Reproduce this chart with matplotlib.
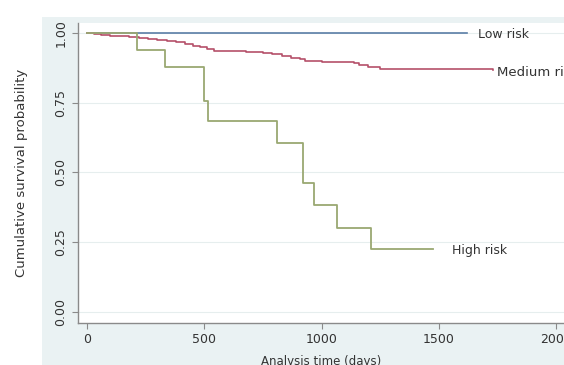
import matplotlib
matplotlib.use("Agg")
import matplotlib.pyplot as plt

# Data
low_t = [0, 1620]
low_s = [1.0, 1.0]

med_t = [0, 30, 60, 100, 140, 180, 220, 260, 300, 340, 380, 420, 450, 480, 510,
         540, 600, 680, 750, 790, 830, 870, 910, 930, 1000, 1140, 1160, 1200, 1250, 1731]
med_s = [1.0, 0.997, 0.994, 0.991, 0.988, 0.985, 0.982, 0.979, 0.975, 0.970, 0.966,
         0.961, 0.955, 0.949, 0.942, 0.936, 0.934, 0.932, 0.930, 0.925, 0.918, 0.912,
         0.905, 0.899, 0.896, 0.893, 0.884, 0.878, 0.870, 0.867]

high_t = [0, 214, 333, 500, 518, 812, 923, 966, 1068, 1209, 1474]
high_s = [1.0, 0.939, 0.878, 0.755, 0.683, 0.606, 0.462, 0.383, 0.301, 0.226, 0.226]

xticks = [0, 500, 1000, 1500, 2000]
yticks = [0.0, 0.25, 0.5, 0.75, 1.0]
ytick_labels = ["0.00", "0.25", "0.50", "0.75", "1.00"]

labels = ["Low risk", "Medium risk", "High risk"]
colors = ["#5a7ea6", "#b5506a", "#9aa872"]

fig = plt.figure(figsize=(5.64, 3.65), dpi=100)
fig.patch.set_facecolor("white")

bg = fig.add_axes([42/564, 0, 1 - 42/564, 1 - 17/365])
bg.set_facecolor("#eaf2f3")
bg.set_xticks([])
bg.set_yticks([])
for s in bg.spines.values():
    s.set_visible(False)
bg.set_zorder(0)

ax = fig.add_axes([78/564, 1 - 323/365, 1 - 78/564, (323 - 23)/365])
ax.set_zorder(1)
ax.set_facecolor("white")
ax.set_xlim(-38.4, 2034)
ax.set_ylim(-0.0394, 1.0358)

for y in yticks:
    ax.axhline(y, color="#e6eeee", lw=0.8, zorder=1)

ax.step(low_t, low_s, where="post", color=colors[0], lw=1.2, zorder=3)
ax.step(med_t, med_s, where="post", color=colors[1], lw=1.2, zorder=3)
ax.step(high_t, high_s, where="post", color=colors[2], lw=1.3, zorder=3)

ax.text(1667, 0.993, labels[0], fontsize=9, color="#333333", va="center", ha="left", clip_on=False)
ax.text(1748, 0.86, labels[1], fontsize=9.5, color="#333333", va="center", ha="left", clip_on=False)
ax.text(1556, 0.219, labels[2], fontsize=9, color="#333333", va="center", ha="left", clip_on=False)

for s in ["top", "right"]:
    ax.spines[s].set_visible(False)
for s in ["left", "bottom"]:
    ax.spines[s].set_color("#8a8a8a")
    ax.spines[s].set_linewidth(1.0)

ax.set_xticks(xticks)
ax.set_xticklabels([str(x) for x in xticks])
ax.set_yticks(yticks)
ax.set_yticklabels(ytick_labels, rotation=90, va="center")
ax.tick_params(axis="both", colors="#8a8a8a", labelcolor="#333333", labelsize=9,
               length=4, width=0.8, direction="out")

ax.set_ylabel("Cumulative survival probability", fontsize=9.5, color="#333333", labelpad=19)
ax.set_xlabel("Analysis time (days)", fontsize=8.5, color="#333333", labelpad=6)

fig.savefig("out.png", dpi=100)
